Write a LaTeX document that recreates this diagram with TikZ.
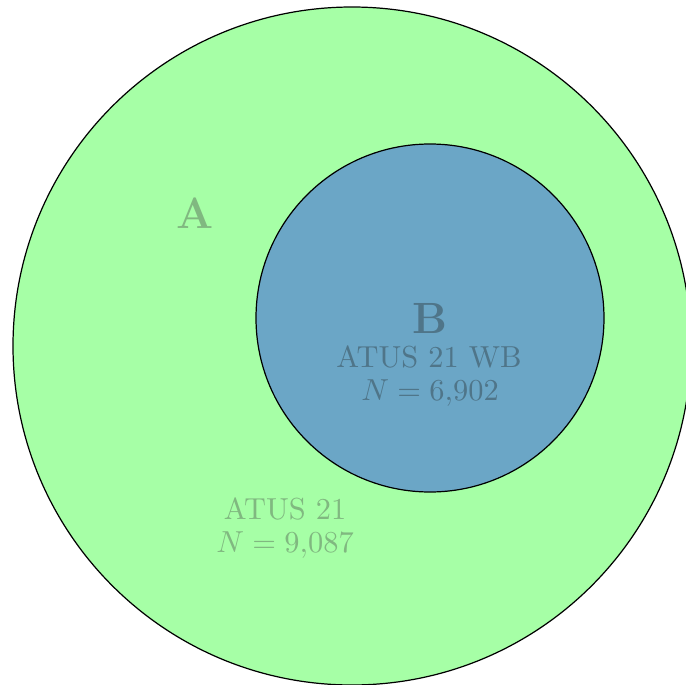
\documentclass[tikz,border=0pt]{standalone}
\usepackage{tikz}
\definecolor{outerfill}{HTML}{A6FFA6}
\definecolor{innerfill}{HTML}{6BA6C6}
\definecolor{outertext}{HTML}{80B880}
\definecolor{innertext}{HTML}{4F7589}
\tikzset{
  setcircle/.style={draw=black, line width=0.4pt},
  lbl/.style={anchor=base, inner sep=0pt, font=\fontsize{10}{10}\selectfont},
  biglbl/.style={anchor=base, inner sep=0pt, font=\Large\bfseries},
}
\begin{document}
\begin{tikzpicture}[x=0.329pt, y=-0.329pt]
  \useasboundingbox (0,0) rectangle (686,685);
  \begin{scope}
    \clip (0,0) rectangle (686,685);
    % outer set A and inner set B
    \fill[outerfill] (352,346) circle[radius=339];
    \draw[setcircle] (352,346) circle[radius=339];
    \fill[innerfill] (430,318) circle[radius=174];
    \draw[setcircle] (430,318) circle[radius=174];
  \end{scope}
  % labels of set A
  \node[biglbl, text=outertext] (labA) at (195,228) {A};
  \node[lbl, text=outertext] (nameA) at (285,519) {ATUS 21};
  \node[lbl, text=outertext] (countA) at (285,552) {$N = 9{,}087$};
  % labels of set B
  \node[biglbl, text=innertext] (labB) at (430,333) {B};
  \node[lbl, text=innertext] (nameB) at (429,367) {ATUS 21 WB};
  \node[lbl, text=innertext] (countB) at (430,400) {$N = 6{,}902$};
\end{tikzpicture}
\end{document}
